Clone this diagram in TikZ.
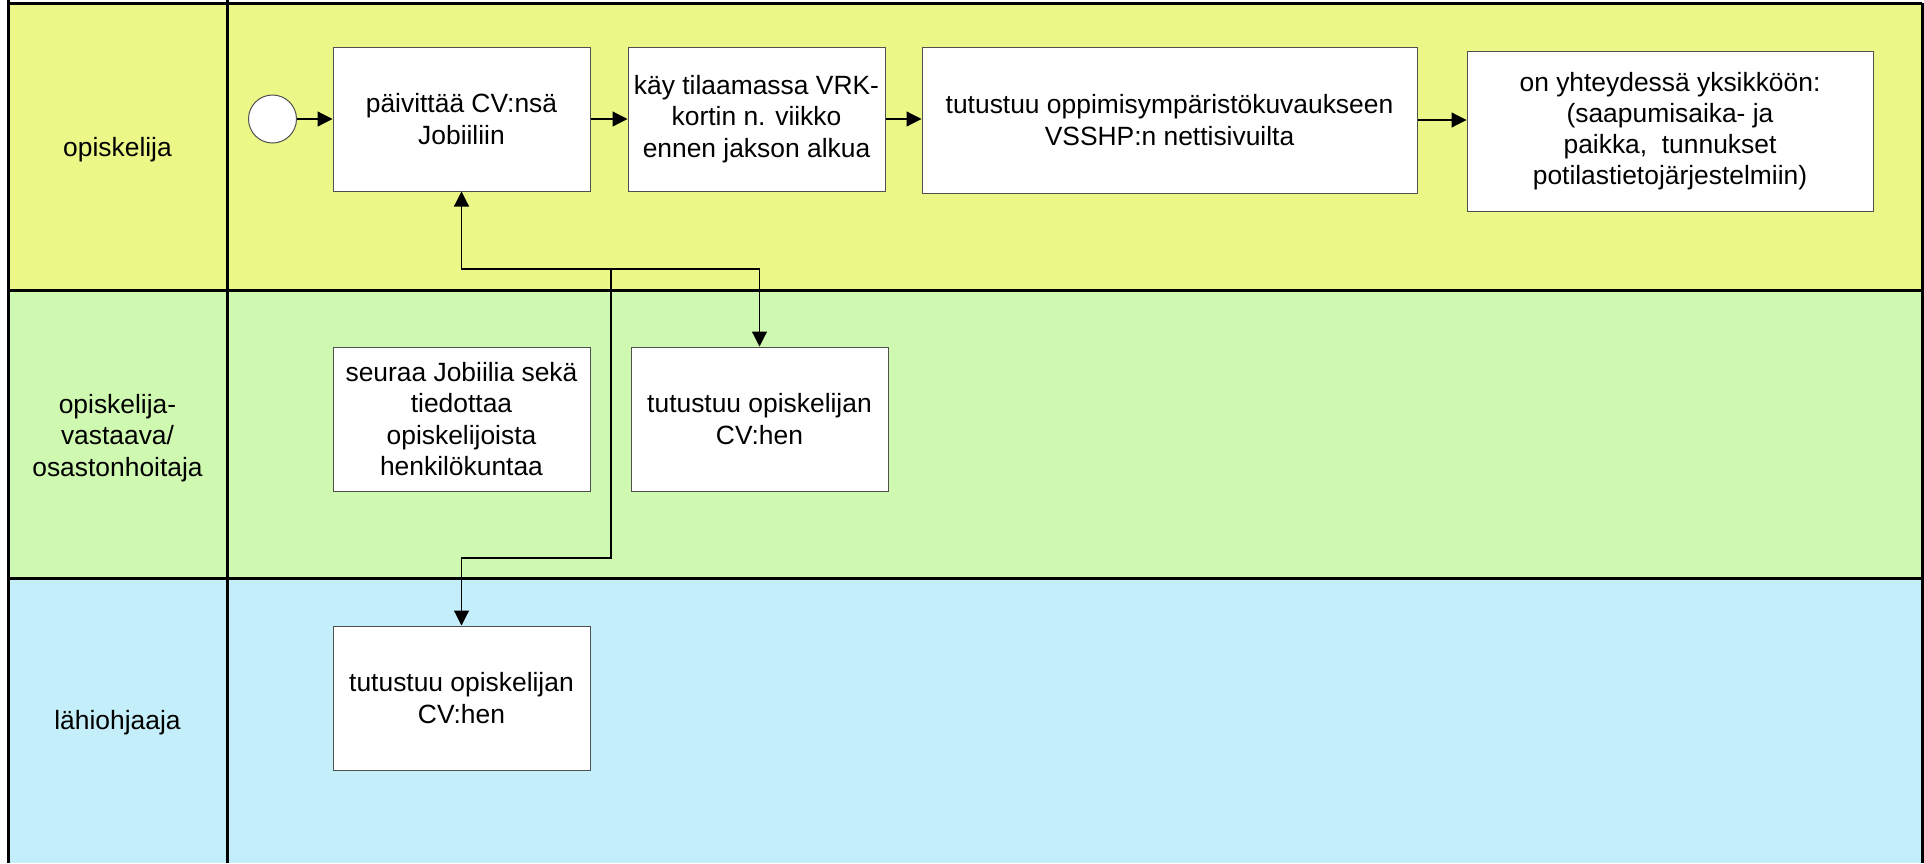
\documentclass[tikz,border=0pt]{standalone}
\usepackage{fontspec}
\setmainfont{Liberation Sans}
\usetikzlibrary{arrows.meta}
\definecolor{laneA}{HTML}{EBF787}
\definecolor{laneB}{HTML}{CFF9B0}
\definecolor{laneC}{HTML}{C4EEFA}
\definecolor{boxline}{HTML}{505050}
\begin{document}
\begin{tikzpicture}[x=0.5pt,y=-0.5pt,
  txt/.style={font=\fontsize{13.2pt}{15.6pt}\selectfont, align=center, inner sep=0pt},
  task/.style={txt, draw=boxline, line width=0.5pt, fill=white, minimum width=128.5pt, minimum height=72pt},
  startev/.style={circle, draw=boxline, line width=0.5pt, fill=white, inner sep=0pt, minimum size=24pt},
  lanerule/.style={line width=1.5pt, black},
  conn/.style={line width=0.6pt, black, -{Triangle[length=7.5pt,width=7.5pt]}}
]
\useasboundingbox (0,0) rectangle (1924,863);
% lanes
\fill[laneA] (8,3) rectangle (1922,290);
\fill[laneB] (8,290) rectangle (1922,578);
\fill[laneC] (8,578) rectangle (1922,863);
\draw[lanerule] (8,3) -- (1922,3);
\draw[lanerule] (8,290) -- (1922,290);
\draw[lanerule] (8,578) -- (1922,578);
\draw[lanerule] (8,0) -- (8,863);
\draw[lanerule] (227,0) -- (227,863);
\draw[lanerule] (1922,3) -- (1922,863);
% lane labels
\node[txt] (l1) at (117.5,150) {opiskelija};
\node[txt] (l2) at (117.5,438) {opiskelija-\\vastaava/\\osastonhoitaja};
\node[txt] (l3) at (117.5,723) {lähiohjaaja};
% tasks
\node[startev] (s) at (272.5,119) {};
\node[task] (b1) at (461.5,119) {päivittää CV:nsä\\Jobiiliin};
\node[task] (b2) at (756.5,119) {käy tilaamassa VRK-\\kortin n. viikko\\ennen jakson alkua};
\node[task, minimum width=247.5pt, minimum height=73pt] (b3) at (1169.5,120) {tutustuu oppimisympäristökuvaukseen\\VSSHP:n nettisivuilta};
\node[task, minimum width=203pt, minimum height=80pt] (b4) at (1670,131) {on yhteydessä yksikköön:\\(saapumisaika- ja\\paikka, \ tunnukset\\potilastietojärjestelmiin)};
\node[task] (b5) at (461.5,419) {seuraa Jobiilia sekä\\tiedottaa\\opiskelijoista\\henkilökuntaa};
\node[task] (b6) at (759.5,419) {tutustuu opiskelijan\\CV:hen};
\node[task] (b7) at (461.5,698) {tutustuu opiskelijan\\CV:hen};
% connectors
\draw[conn] (s) -- (b1);
\draw[conn] (b1) -- (b2);
\draw[conn] (b2.east) -- (b2.east -| b3.west);
\draw[conn] (b3.east) -- (b3.east -| b4.west);
\coordinate (j) at (611,269);
\coordinate (k) at (611,558);
\draw[conn] (j) -| (b1.south);
\draw[conn] (j) -| (b6.north);
\draw[conn] (j) -- (k) -| (b7.north);
\end{tikzpicture}
\end{document}
